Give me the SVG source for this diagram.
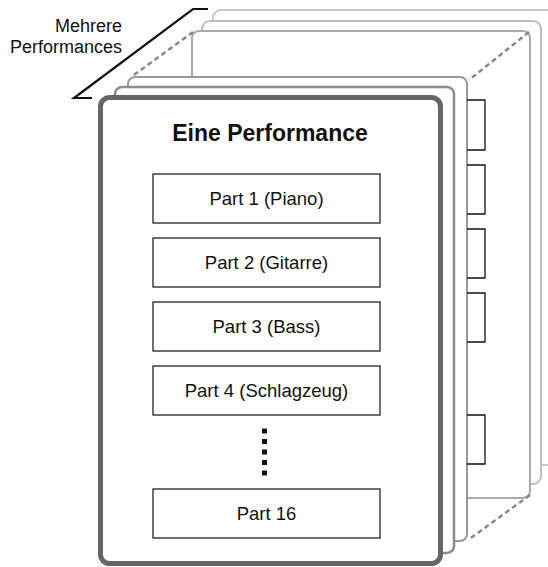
<svg xmlns="http://www.w3.org/2000/svg" width="548" height="567" viewBox="0 0 548 567">
<style>
text{font-family:"Liberation Sans",Arial,sans-serif;fill:#111}
.card{fill:#fff}
.tab{fill:none;stroke:#111;stroke-width:1.3}
.part{fill:#fff;stroke:#222;stroke-width:1.3}
.pt{font-size:18.5px;text-anchor:middle}
.dash{fill:none;stroke:#888;stroke-width:2.5;stroke-dasharray:5 3.5}
</style>
<g id="card6"><rect class="card" x="213" y="10" width="350" height="455" rx="8" stroke="#c8c8c8" stroke-width="2"/></g>
<g id="card5"><rect class="card" x="202" y="21" width="339" height="463" rx="8" stroke="#bdbdbd" stroke-width="2"/></g>
<g id="card4"><rect class="card" x="192" y="31" width="338" height="467" rx="7" stroke="#aaa" stroke-width="2"/></g>
<g id="connectors">
<line class="dash" x1="193" y1="32" x2="131" y2="77"/>
<line class="dash" x1="529" y1="32" x2="469" y2="80"/>
<line class="dash" x1="530" y1="495" x2="468" y2="540"/>
<polyline points="92,98 74,98 193,9 208,9" fill="none" stroke="#111" stroke-width="2.2"/>
</g>
<g id="card3">
<rect class="card" x="128" y="77" width="339" height="464" rx="7" stroke="#999" stroke-width="2"/>
<path class="tab" d="M467,100H485V150H467"/>
<path class="tab" d="M467,165H485V214H467"/>
<path class="tab" d="M467,229H485V278H467"/>
<path class="tab" d="M467,293H485V342H467"/>
<path class="tab" d="M467,415H485V464H467"/>
</g>
<g id="card2"><rect class="card" x="115" y="87" width="339" height="466" rx="7" stroke="#8c8c8c" stroke-width="2.5"/></g>
<g id="label"><text x="122" y="32" font-size="18" text-anchor="end">Mehrere</text><text x="122" y="53" font-size="18" text-anchor="end">Performances</text></g>
<g id="main">
<rect class="card" x="100.5" y="97.5" width="340" height="466" rx="9" stroke="#666" stroke-width="5"/>
<text x="270" y="141" font-size="23" font-weight="bold" text-anchor="middle">Eine Performance</text>
</g>
<g id="part1"><rect class="part" x="153" y="174" width="227" height="49"/><text class="pt" x="266.5" y="205">Part 1 (Piano)</text></g>
<g id="part2"><rect class="part" x="153" y="238" width="227" height="49"/><text class="pt" x="266.5" y="269">Part 2 (Gitarre)</text></g>
<g id="part3"><rect class="part" x="153" y="302" width="227" height="49"/><text class="pt" x="266.5" y="333">Part 3 (Bass)</text></g>
<g id="part4"><rect class="part" x="153" y="366" width="227" height="49"/><text class="pt" x="266.5" y="397">Part 4 (Schlagzeug)</text></g>
<g id="dots" fill="#111"><rect x="262" y="428.5" width="5" height="5"/><rect x="262" y="439" width="5" height="5"/><rect x="262" y="449.5" width="5" height="5"/><rect x="262" y="460" width="5" height="5"/><rect x="262" y="470.5" width="5" height="5"/></g>
<g id="part16"><rect class="part" x="153" y="489" width="227" height="49"/><text class="pt" x="266.5" y="520">Part 16</text></g>
</svg>
